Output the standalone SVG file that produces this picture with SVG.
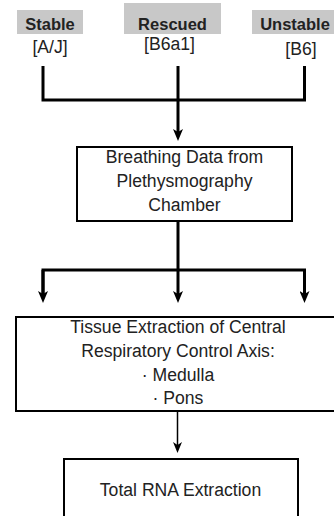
<svg xmlns="http://www.w3.org/2000/svg" width="334" height="516" viewBox="0 0 334 516">
<style>
.t{font-family:"Liberation Sans",Arial,sans-serif;font-size:17.6px;fill:#222;text-anchor:middle}
.b{font-family:"Liberation Sans",Arial,sans-serif;font-size:16.5px;font-weight:bold;fill:#222;text-anchor:middle}
.g{fill:#c8c8c8}
.box{fill:#fff;stroke:#000;stroke-width:2}
.thick{stroke:#000;stroke-width:3;fill:none}
.thin{stroke:#000;stroke-width:1.5;fill:none}
</style>
<defs>
<marker id="ah" markerUnits="userSpaceOnUse" markerWidth="12" markerHeight="10" refX="4" refY="5" orient="auto">
<path d="M0,0 L12,5 L0,10 L3,5 z" fill="#000"/>
</marker>
<marker id="ahs" markerUnits="userSpaceOnUse" markerWidth="12" markerHeight="10" refX="4" refY="4.5" orient="auto">
<path d="M0,0 L11,4.5 L0,9 L3,4.5 z" fill="#000"/>
</marker>
</defs>
<g id="stable">
<rect class="g" x="17" y="10" width="66" height="24"/>
<text class="b" x="50" y="30">Stable</text>
<text class="t" x="50" y="53">[A/J]</text>
</g>
<g id="rescued">
<rect class="g" x="124" y="3" width="97" height="31"/>
<text class="b" x="172.5" y="30">Rescued</text>
<text class="t" x="169.5" y="50">[B6a1]</text>
</g>
<g id="unstable">
<rect class="g" x="252" y="10" width="90" height="24"/>
<text class="b" x="295" y="30">Unstable</text>
<text class="t" x="301" y="55">[B6]</text>
</g>
<g id="connectors">
<path class="thick" d="M43,66 V100 H304.5 V66"/>
<line class="thick" x1="178" y1="66" x2="178" y2="133" marker-end="url(#ah)"/>
<path class="thick" d="M178,222 V270"/>
<path class="thick" d="M43,296 V270 H304.5 V296"/>
<line class="thick" x1="43" y1="270" x2="43" y2="295" marker-end="url(#ah)"/>
<line class="thick" x1="178" y1="270" x2="178" y2="295" marker-end="url(#ah)"/>
<line class="thick" x1="304.5" y1="270" x2="304.5" y2="295" marker-end="url(#ah)"/>
<line class="thin" x1="177.5" y1="412" x2="177.5" y2="446" marker-end="url(#ahs)"/>
</g>
<g id="breathing">
<rect class="box" x="77" y="147" width="215" height="74"/>
<text class="t" x="184.5" y="163">Breathing Data from</text>
<text class="t" x="184.5" y="187">Plethysmography</text>
<text class="t" x="184.5" y="211">Chamber</text>
</g>
<g id="tissue">
<rect class="box" x="16" y="317" width="330" height="94"/>
<text class="t" x="178" y="333">Tissue Extraction of Central</text>
<text class="t" x="178" y="357">Respiratory Control Axis:</text>
<text class="t" x="178" y="381">· Medulla</text>
<text class="t" x="178" y="404">· Pons</text>
</g>
<g id="rna">
<rect class="box" x="64" y="459" width="234" height="80"/>
<text class="t" x="180.5" y="496">Total RNA Extraction</text>
</g>
</svg>
